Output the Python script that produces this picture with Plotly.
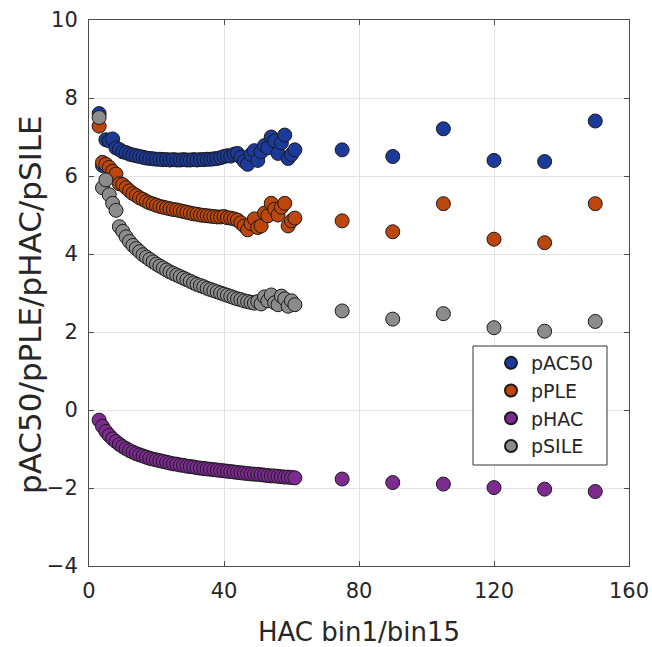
import plotly.graph_objects as go

# HAC bin1/bin15 positions: dense run 3..61, then sparse bins
hac_dense = list(range(3, 62))
hac_sparse = [75, 90, 105, 120, 135, 150]
hac = hac_dense + hac_sparse

pAC50 = [7.60, 6.27, 6.93, 6.90, 6.95, 6.72, 6.68, 6.62, 6.60, 6.56,
         6.54, 6.52, 6.50, 6.48, 6.46, 6.45, 6.44, 6.43, 6.43, 6.42,
         6.42, 6.41, 6.42, 6.41, 6.41, 6.42, 6.41, 6.41, 6.42, 6.41,
         6.42, 6.42, 6.43, 6.43, 6.44, 6.45, 6.47, 6.50, 6.52, 6.51,
         6.56, 6.58, 6.48, 6.38, 6.30, 6.55, 6.65, 6.40, 6.62, 6.78,
         6.72, 7.00, 6.90, 6.58, 6.85, 7.05, 6.45, 6.55, 6.67,
         6.67, 6.50, 7.21, 6.40, 6.37, 7.41]

pPLE = [7.28, 6.35, 6.30, 6.22, 6.12, 6.05, 5.80, 5.78, 5.70, 5.62,
        5.55, 5.50, 5.44, 5.40, 5.35, 5.31, 5.28, 5.25, 5.22, 5.20,
        5.18, 5.16, 5.14, 5.13, 5.11, 5.09, 5.07, 5.05, 5.03, 5.02,
        5.00, 4.99, 4.98, 4.97, 4.96, 4.95, 4.95, 4.96, 4.93, 4.92,
        4.90, 4.87, 4.80, 4.72, 4.62, 4.78, 4.90, 4.68, 4.72, 5.05,
        4.98, 5.30, 5.15, 5.00, 5.20, 5.30, 4.72, 4.85, 4.92,
        4.85, 4.57, 5.29, 4.38, 4.29, 5.29]

pHAC = [-0.26, -0.42, -0.55, -0.65, -0.74, -0.81, -0.88, -0.94, -0.99, -1.04,
        -1.08, -1.12, -1.15, -1.18, -1.21, -1.24, -1.26, -1.28, -1.30, -1.32,
        -1.34, -1.36, -1.38, -1.39, -1.41, -1.42, -1.44, -1.45, -1.46, -1.48,
        -1.49, -1.50, -1.51, -1.52, -1.53, -1.54, -1.55, -1.56, -1.57, -1.58,
        -1.59, -1.60, -1.61, -1.62, -1.63, -1.64, -1.645, -1.65, -1.66, -1.67,
        -1.68, -1.69, -1.69, -1.70, -1.71, -1.72, -1.72, -1.73, -1.74,
        -1.77, -1.86, -1.90, -1.99, -2.03, -2.09]

pSILE = [7.50, 5.70, 5.90, 5.52, 5.30, 5.12, 4.70, 4.58, 4.44, 4.32,
         4.22, 4.14, 4.06, 3.98, 3.92, 3.86, 3.80, 3.74, 3.69, 3.64,
         3.59, 3.54, 3.50, 3.46, 3.42, 3.38, 3.34, 3.30, 3.26, 3.22,
         3.19, 3.16, 3.12, 3.09, 3.06, 3.03, 3.00, 2.97, 2.94, 2.91,
         2.88, 2.85, 2.83, 2.80, 2.78, 2.76, 2.74, 2.78, 2.72, 2.90,
         2.80, 2.95, 2.75, 2.70, 2.92, 2.85, 2.66, 2.80, 2.70,
         2.54, 2.33, 2.47, 2.11, 2.02, 2.27]

series = [
    ("pAC50", pAC50, "#1b3a9a"),
    ("pPLE", pPLE, "#bd460d"),
    ("pHAC", pHAC, "#7d2b91"),
    ("pSILE", pSILE, "#8c8c8c"),
]

FONT = "DejaVu Sans"
INK = "#262626"
AXIS = "#4d4d4d"

# plot-area pixel box
L, R, T, B = 89, 629, 20, 566
PW, PH = R - L, B - T

fig = go.Figure()
for name, vals, color in series:
    fig.add_trace(go.Scatter(
        x=hac, y=vals, mode="markers", name=name,
        marker=dict(size=14, color=color,
                    line=dict(color="#1a1a1a", width=1)),
    ))

axis_common = dict(
    showline=True, linecolor=AXIS, linewidth=1, mirror="ticks",
    ticks="inside", ticklen=5, tickcolor=AXIS,
    showgrid=True, gridcolor="#e3e3e3", gridwidth=1,
    zeroline=False, automargin=False,
    tickfont=dict(family=FONT, size=21, color=INK),
)

fig.update_xaxes(
    range=[0, 160], tickvals=[0, 40, 80, 120, 160],
    ticklabelstandoff=6,
    title=dict(text="HAC bin1/bin15", font=dict(family=FONT, size=26, color=INK),
               standoff=20),
    **axis_common,
)
fig.update_yaxes(
    range=[-4, 10], tickvals=[-4, -2, 0, 2, 4, 6, 8, 10],
    ticklabelstandoff=6,
    **axis_common,
)

# y-axis label
fig.add_annotation(
    text="pAC50/pPLE/pHAC/pSILE", textangle=-90,
    xref="paper", yref="paper",
    x=(30 - L) / PW, y=(B - 305) / PH, xanchor="center", yanchor="middle",
    showarrow=False, font=dict(family=FONT, size=31, color=INK),
)

# legend frame (the legend itself is drawn borderless inside it)
fig.add_shape(
    type="rect", xref="paper", yref="paper",
    x0=(473 - L) / PW, x1=(607 - L) / PW,
    y0=(B - 465) / PH, y1=(B - 346) / PH,
    line=dict(color="#333333", width=1), fillcolor="white", layer="above",
)

fig.update_layout(
    width=652, height=647,
    margin=dict(l=L, r=652 - R, t=T, b=647 - B),
    plot_bgcolor="white", paper_bgcolor="white",
    showlegend=True,
    legend=dict(
        x=(491 - L) / PW, y=(B - 344) / PH, xanchor="left", yanchor="top",
        bgcolor="rgba(0,0,0,0)", borderwidth=0,
        font=dict(family=FONT, size=19, color=INK),
        itemsizing="constant", tracegroupgap=0,
    ),
)

fig.write_html("out.html")
